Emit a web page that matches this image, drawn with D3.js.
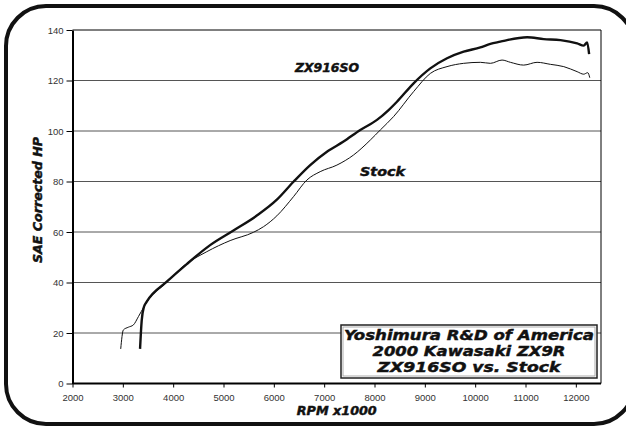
<!DOCTYPE html>
<html>
<head>
<meta charset="utf-8">
<script src="https://cdn.jsdelivr.net/npm/d3@7"></script>
<style>
  body { margin: 0; background: #fff; }
  svg { display: block; }
  .tick text { font-family: 'Liberation Sans', Arial, sans-serif; font-size: 9.5px; fill: #333; }
  .title { font-family: 'DejaVu Sans', sans-serif; font-weight: bold; font-style: italic; fill: #111; stroke: #111; stroke-width: 0.45; }
</style>
</head>
<body>
<svg id="chart" width="626" height="428"></svg>
<script>
// ZX916SO (modified) dyno run
const zxRpm = [3342, 3375, 3420, 3475, 3873, 4270, 4734, 5198, 5662, 6060, 6391, 6723, 7055, 7385, 7717, 8049, 8280, 8446, 8777, 9109, 9441, 9771, 10103, 10302, 10500, 10634, 11032, 11362, 11694, 12026, 12157, 12225, 12264];
const zxHp = [13.7, 25, 30.4, 32.4, 40.3, 47.3, 54.8, 60.6, 66.5, 72.8, 79.9, 86.5, 91.8, 95.8, 100.4, 104.4, 108.3, 111.6, 118.9, 124.8, 128.8, 131.4, 133.1, 134.5, 135.4, 136, 137.1, 136.4, 136, 134.7, 133.8, 135.1, 130.4];

// Stock dyno run
const stockRpm = [2958, 3010, 3110, 3210, 3310, 3420, 3475, 3873, 4203, 4668, 5132, 5597, 5795, 6060, 6391, 6657, 6921, 7253, 7584, 7916, 8115, 8379, 8777, 9109, 9441, 9771, 10103, 10302, 10534, 10700, 10964, 11230, 11495, 11760, 12026, 12157, 12237, 12277];
const stockHp = [13.7, 21.2, 22.3, 23.2, 26.5, 30.4, 32.2, 40.1, 46.5, 52.2, 56.6, 59.9, 62.1, 66.4, 74, 80.6, 83.9, 86.5, 90.5, 96.4, 100.4, 105.7, 115.6, 122.8, 125.5, 126.8, 127.2, 126.8, 128.1, 127.2, 126.1, 127.2, 126.4, 125.5, 123.5, 122.5, 123.1, 121.1];

const xTicks = [2000, 3000, 4000, 5000, 6000, 7000, 8000, 9000, 10000, 11000, 12000];
const yTicks = [0, 20, 40, 60, 80, 100, 120, 140];
const titleLines = ['Yoshimura R&D of America', '2000 Kawasaki ZX9R', 'ZX916SO vs. Stock'];
const titleWidths = [250, 193, 183];

const width = 626, height = 428;
const margins = { left: 72.5, right: 25, top: 30, bottom: 44.5 };

const vis = d3.select('#chart');

// rounded frame around everything
vis.append('rect')
  .attr('x', 6).attr('y', 6)
  .attr('width', 628).attr('height', 418)
  .attr('rx', 40).attr('ry', 40)
  .attr('fill', 'none')
  .attr('stroke', '#111')
  .attr('stroke-width', 4);

const xScale = d3.scaleLinear()
    .domain([2000, 12500])
    .range([margins.left, width - margins.right]),
  yScale = d3.scaleLinear()
    .domain([0, 140])
    .range([height - margins.bottom, margins.top]);

// gridlines
vis.append('g')
  .selectAll('line')
  .data(yTicks.filter(d => d > 0))
  .join('line')
  .attr('x1', margins.left)
  .attr('x2', xScale(12500))
  .attr('y1', d => yScale(d))
  .attr('y2', d => yScale(d))
  .attr('stroke', d => d === 140 ? '#000' : '#555')
  .attr('stroke-width', 1);

// right edge of plot area
vis.append('line')
  .attr('x1', xScale(12500)).attr('x2', xScale(12500))
  .attr('y1', yScale(140)).attr('y2', yScale(0))
  .attr('stroke', '#000');

const xAxis = d3.axisBottom(xScale)
    .tickValues(xTicks)
    .tickFormat(d3.format('d'))
    .tickSize(4)
    .tickSizeOuter(0),
  yAxis = d3.axisLeft(yScale)
    .tickValues(yTicks)
    .tickSize(6)
    .tickSizeOuter(0);

const gx = vis.append('g')
  .attr('transform', 'translate(0,' + yScale(0) + ')')
  .call(xAxis);
gx.select('.domain').attr('stroke-width', 2).attr('d', 'M' + margins.left + ',0H' + xScale(12500));
gx.selectAll('.tick text').attr('dy', '1.1em');

const gy = vis.append('g')
  .attr('transform', 'translate(' + margins.left + ',0)')
  .call(yAxis);
gy.select('.domain').attr('stroke-width', 2);
gy.selectAll('.tick text').attr('x', -9);

// curves
const lineGen = d3.line()
  .x(d => xScale(d[0]))
  .y(d => yScale(d[1]))
  .curve(d3.curveMonotoneX);

vis.append('path')
  .attr('d', lineGen(d3.zip(stockRpm, stockHp)))
  .attr('fill', 'none')
  .attr('stroke', '#111')
  .attr('stroke-width', 1);

vis.append('path')
  .attr('d', lineGen(d3.zip(zxRpm, zxHp)))
  .attr('fill', 'none')
  .attr('stroke', '#111')
  .attr('stroke-width', 2.4)
  .attr('stroke-linejoin', 'round');

// series labels
vis.append('text')
  .attr('class', 'title')
  .attr('x', 295)
  .attr('y', 72)
  .attr('font-size', 12)
  .attr('textLength', 64)
  .attr('lengthAdjust', 'spacingAndGlyphs')
  .text('ZX916SO');

vis.append('text')
  .attr('class', 'title')
  .attr('x', 360)
  .attr('y', 176)
  .attr('font-size', 12)
  .attr('textLength', 45)
  .attr('lengthAdjust', 'spacingAndGlyphs')
  .text('Stock');

// title box
const box = vis.append('g');
box.append('rect')
  .attr('x', 341).attr('y', 325)
  .attr('width', 256).attr('height', 53)
  .attr('fill', '#fff')
  .attr('stroke', '#222')
  .attr('stroke-width', 1.5);
box.append('rect')
  .attr('x', 343).attr('y', 327)
  .attr('width', 252).attr('height', 49)
  .attr('fill', 'none')
  .attr('stroke', '#999')
  .attr('stroke-width', 0.8);
box.selectAll('text')
  .data(titleLines)
  .join('text')
  .attr('class', 'title')
  .attr('x', 469)
  .attr('y', (d, i) => 340 + i * 16)
  .attr('font-size', 14)
  .attr('text-anchor', 'middle')
  .attr('textLength', (d, i) => titleWidths[i])
  .attr('lengthAdjust', 'spacingAndGlyphs')
  .text(d => d);

// axis titles
vis.append('text')
  .attr('class', 'title')
  .attr('transform', 'translate(42,200) rotate(-90)')
  .attr('font-size', 12)
  .attr('text-anchor', 'middle')
  .attr('textLength', 126)
  .attr('lengthAdjust', 'spacingAndGlyphs')
  .text('SAE Corrected HP');

vis.append('text')
  .attr('class', 'title')
  .attr('x', (margins.left + xScale(12500)) / 2)
  .attr('y', 415)
  .attr('font-size', 12)
  .attr('text-anchor', 'middle')
  .attr('textLength', 80)
  .attr('lengthAdjust', 'spacingAndGlyphs')
  .text('RPM x1000');
</script>
</body>
</html>
